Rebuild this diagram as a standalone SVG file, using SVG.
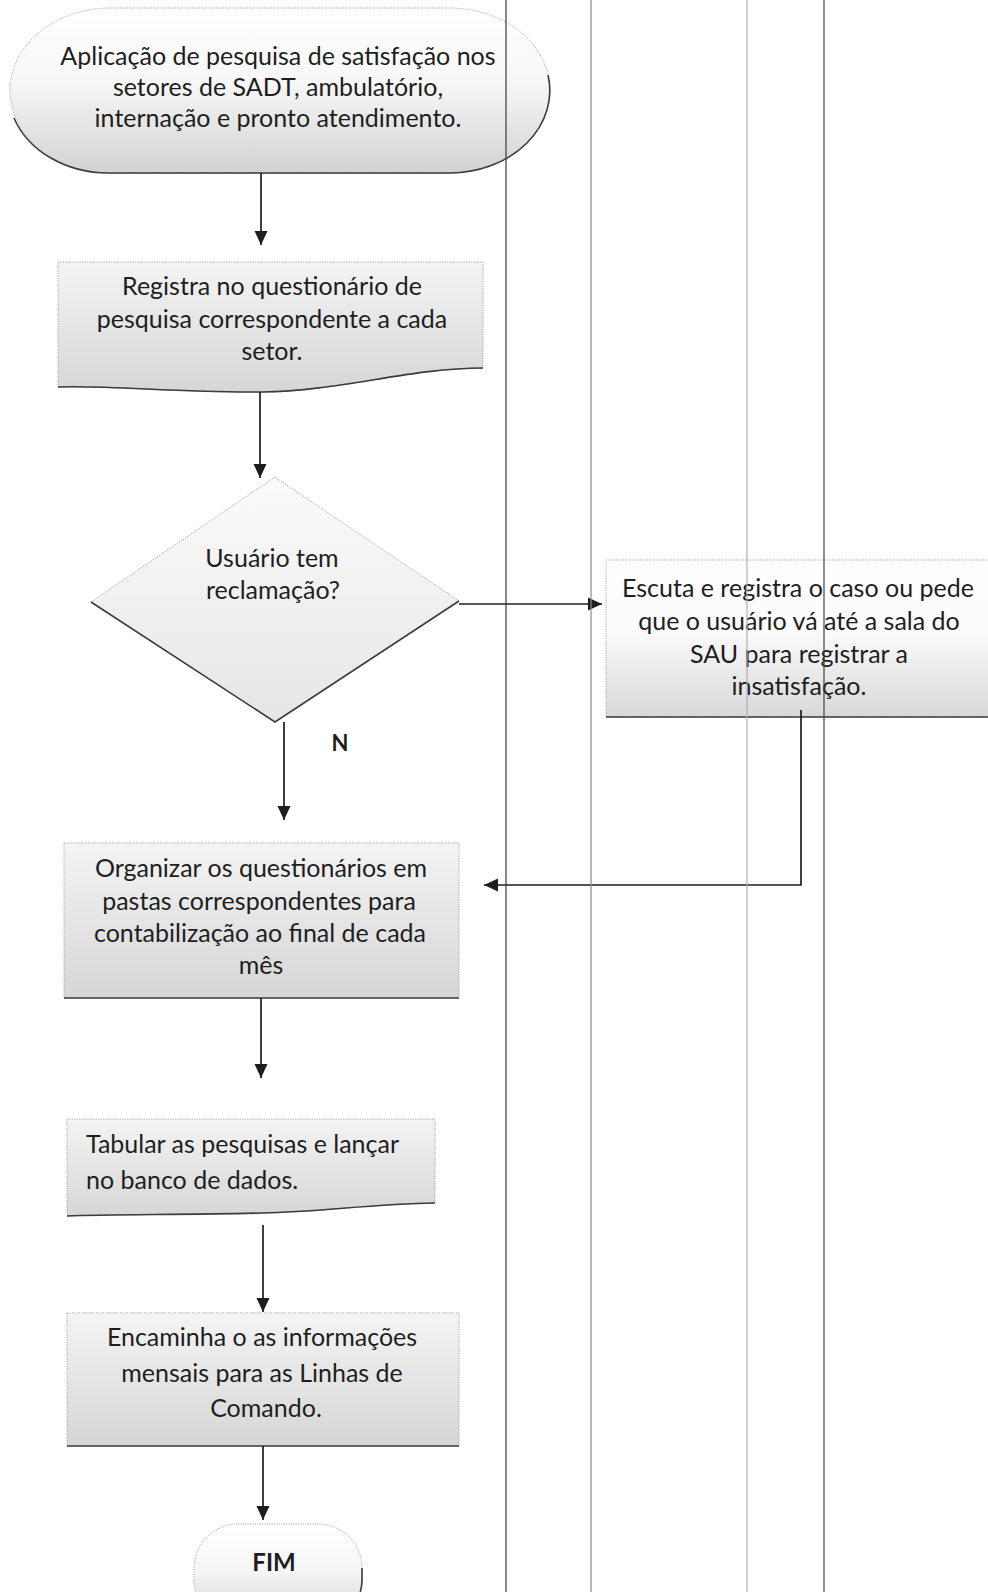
<svg xmlns="http://www.w3.org/2000/svg" width="988" height="1592" viewBox="0 0 988 1592">
<defs>
<linearGradient id="gTerm" x1="0" y1="0" x2="0" y2="1">
<stop offset="0" stop-color="#ffffff"/><stop offset="0.45" stop-color="#f7f7f7"/><stop offset="1" stop-color="#d2d2d2"/>
</linearGradient>
<linearGradient id="gBox" x1="0" y1="0" x2="0" y2="1">
<stop offset="0" stop-color="#f4f4f4"/><stop offset="1" stop-color="#d6d6d6"/>
</linearGradient>
<linearGradient id="gRight" x1="0" y1="0" x2="0" y2="1">
<stop offset="0" stop-color="#ffffff"/><stop offset="0.45" stop-color="#fbfbfb"/><stop offset="1" stop-color="#d8d8d8"/>
</linearGradient>
<linearGradient id="gDia" x1="0" y1="0" x2="0" y2="1">
<stop offset="0" stop-color="#fbfbfb"/><stop offset="1" stop-color="#e6e6e6"/>
</linearGradient>
<marker id="arr" markerUnits="userSpaceOnUse" markerWidth="14" markerHeight="14" viewBox="0 0 14 14" refX="14" refY="7" orient="auto">
<path d="M0,0.5 L14,7 L0,13.5 Z" fill="#1e1e1e"/>
</marker>
</defs>
<style>
.t{font-family:Lato,"Liberation Sans",sans-serif;font-size:25px;fill:#1e1e1e;text-anchor:middle}
.l{text-anchor:start}
.b{font-weight:bold}
.edge{stroke:#a0a0a0;stroke-width:0.9;stroke-dasharray:1.2 1.2}
.sh{fill:none;stroke:#3c3c3c;stroke-width:1.6}
.conn{fill:none;stroke:#1e1e1e;stroke-width:1.7}
.lane{stroke-width:1.2}
</style>

<g id="n-start">
<path class="edge" fill="url(#gTerm)" d="M110,8 H450 A100,82.5 0 0 1 550,90.5 A100,82.5 0 0 1 450,173 H110 A100,82.5 0 0 1 10,90.5 A100,82.5 0 0 1 110,8 Z"/>
<path class="sh" d="M14,118 A100,82.5 0 0 0 110,173 H450 A100,82.5 0 0 0 548,75"/>
<text class="t" x="278" y="65">Aplicação de pesquisa de satisfação nos</text>
<text class="t" x="278" y="96">setores de SADT, ambulatório,</text>
<text class="t" x="278" y="127">internação e pronto atendimento.</text>
</g>

<g id="n-registra">
<path class="edge" fill="url(#gBox)" d="M58,262 H483 V368 C410,368 340,391 262,392 C180,393 110,385 58,387 Z"/>
<path class="sh" d="M483,368 C410,368 340,391 262,392 C180,393 110,385 58,387"/>
<text class="t" x="272" y="295">Registra no questionário de</text>
<text class="t" x="272" y="328">pesquisa correspondente a cada</text>
<text class="t" x="272" y="360">setor.</text>
</g>

<g id="n-decisao">
<path class="edge" fill="url(#gDia)" d="M275,477 L459,601 L275,722 L91,602 Z"/>
<path class="sh" d="M91,602 L275,722 L459,601"/>
<text class="t" x="272" y="567">Usuário tem</text>
<text class="t" x="273" y="599">reclamação?</text>
</g>

<g id="n-escuta">
<path class="edge" fill="url(#gRight)" d="M606,560 H995 V717 H606 Z"/>
<path class="sh" d="M606,717 H995"/>
<text class="t" x="798" y="597">Escuta e registra o caso ou pede</text>
<text class="t" x="799" y="630">que o usuário vá até a sala do</text>
<text class="t" x="799" y="663">SAU para registrar a</text>
<text class="t" x="799" y="695">insatisfação.</text>
</g>

<g id="n-organizar">
<path class="edge" fill="url(#gBox)" d="M64,843 H459 V998 H64 Z"/>
<path class="sh" d="M64,998 H459"/>
<text class="t" x="261" y="877">Organizar os questionários em</text>
<text class="t" x="259" y="910">pastas correspondentes para</text>
<text class="t" x="260" y="942">contabilização ao final de cada</text>
<text class="t" x="261" y="974">mês</text>
</g>

<g id="n-tabular">
<path class="edge" fill="url(#gBox)" d="M67,1119 H435 V1203 C370,1204 320,1212 262,1213 C180,1215 110,1214 67,1216 Z"/>
<path class="sh" d="M435,1203 C370,1204 320,1212 262,1213 C180,1215 110,1214 67,1216"/>
<text class="t l" x="86" y="1153">Tabular as pesquisas e lançar</text>
<text class="t l" x="86" y="1189">no banco de dados.</text>
</g>

<g id="n-encaminha">
<path class="edge" fill="url(#gBox)" d="M67,1313 H459 V1446 H67 Z"/>
<path class="sh" d="M67,1446 H459"/>
<text class="t" x="262" y="1346">Encaminha o as informações</text>
<text class="t" x="262" y="1382">mensais para as Linhas de</text>
<text class="t" x="266" y="1417">Comando.</text>
</g>

<g id="n-fim">
<path class="edge" fill="url(#gTerm)" d="M238,1524 H318 A44,44 0 0 1 362,1568 V1580 A44,44 0 0 1 318,1624 H238 A44,44 0 0 1 194,1580 V1568 A44,44 0 0 1 238,1524 Z"/>
<path class="sh" d="M362,1568 V1580 A44,44 0 0 1 330,1622"/>
<text class="t b" x="274" y="1571" style="font-size:24px">FIM</text>
</g>

<g id="connectors">
<path class="conn" marker-end="url(#arr)" d="M261,173 V245"/>
<path class="conn" marker-end="url(#arr)" d="M260,392 V478"/>
<path class="conn" marker-end="url(#arr)" d="M459,604 H602"/>
<path class="conn" marker-end="url(#arr)" d="M284,722 V820"/>
<path class="conn" marker-end="url(#arr)" d="M801,710 V885 H484"/>
<path class="conn" marker-end="url(#arr)" d="M261,998 V1078"/>
<path class="conn" marker-end="url(#arr)" d="M263,1225 V1312"/>
<path class="conn" marker-end="url(#arr)" d="M263,1446 V1520"/>
<text class="t b" x="340" y="751" style="font-size:22px">N</text>
</g>

<g id="lanes">
<line class="lane" x1="506" y1="0" x2="506" y2="1592" stroke="#3a3a3a"/>
<line class="lane" x1="591" y1="0" x2="591" y2="1592" stroke="#8a8a8a"/>
<line class="lane" x1="747" y1="0" x2="747" y2="1592" stroke="#b0b0b0"/>
<line class="lane" x1="824" y1="0" x2="824" y2="1592" stroke="#444444"/>
</g>
</svg>
